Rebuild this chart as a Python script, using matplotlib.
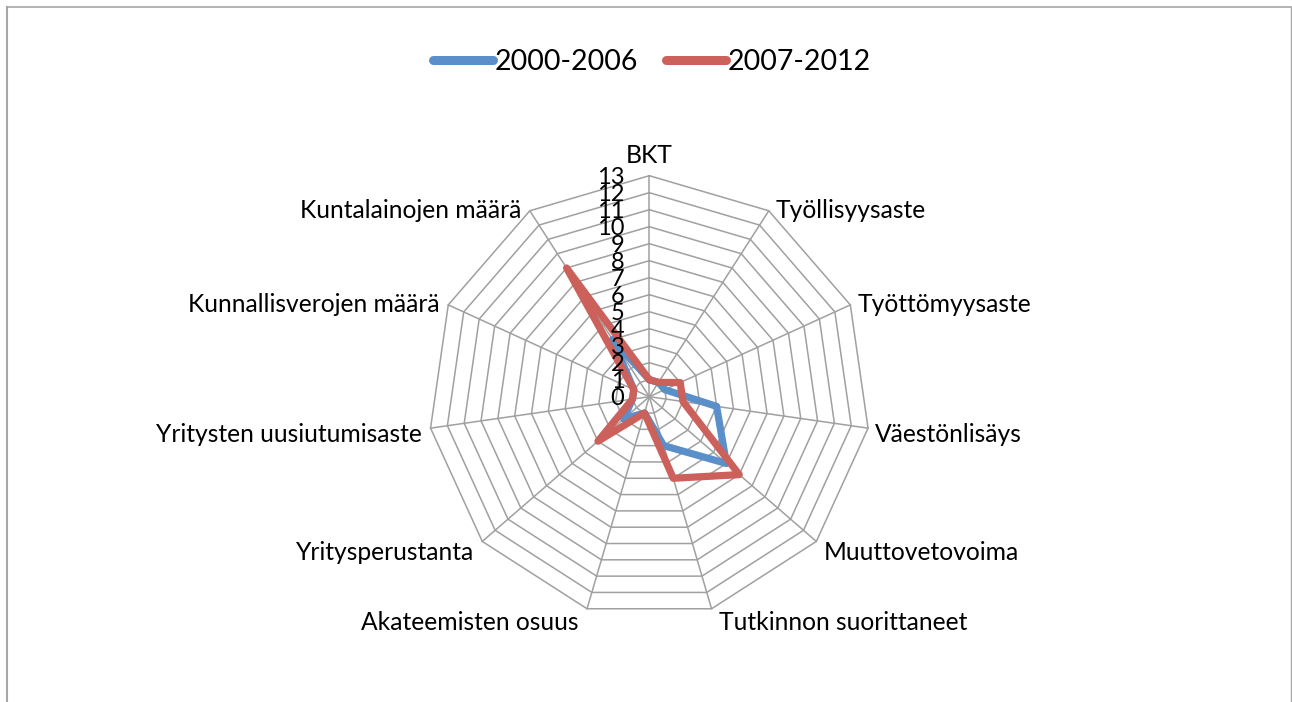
import numpy as np
import matplotlib.pyplot as plt
from matplotlib.lines import Line2D

plt.rcParams['font.family'] = ['Lato', 'DejaVu Sans']

categories = ["BKT", "Työllisyysaste", "Työttömyysaste", "Väestönlisäys",
              "Muuttovetovoima", "Tutkinnon suorittaneet", "Akateemisten osuus",
              "Yritysperustanta", "Yritysten uusiutumisaste",
              "Kunnallisverojen määrä", "Kuntalainojen määrä"]
s2000_2006 = [1, 1, 1, 4, 6, 3, 1, 2, 1, 1, 4]
s2007_2012 = [1, 1, 2, 2, 7, 5, 1, 4, 1, 1, 9]
series_names = ["2000-2006", "2007-2012"]
colors = ["#5b8fc9", "#cc605a"]
rmax = 13

n = len(categories)
theta = np.arange(n) * 2 * np.pi / n
sx, cy = np.sin(theta), np.cos(theta)

fig = plt.figure(figsize=(12.92, 7.02), dpi=100)
W, H = 1292, 702
cx_px, cy_px, R_px = 649.3, 396.7, 221
ax = fig.add_axes([(cx_px - R_px) / W, (H - cy_px - R_px) / H, 2 * R_px / W, 2 * R_px / H])
ax.set_xlim(-rmax, rmax)
ax.set_ylim(-rmax, rmax)
ax.axis('off')

grid_c = "#a0a0a0"
for r in range(1, rmax + 1):
    ax.plot(np.append(r * sx, r * sx[0]), np.append(r * cy, r * cy[0]),
            color=grid_c, lw=1.1, clip_on=False, zorder=1)
for i in range(n):
    ax.plot([0, rmax * sx[i]], [0, rmax * cy[i]], color=grid_c, lw=1.1,
            clip_on=False, zorder=1)

for vals, name, c in zip([s2000_2006, s2007_2012], series_names, colors):
    v = np.array(vals, dtype=float)
    ax.plot(np.append(v * sx, v[0] * sx[0]), np.append(v * cy, v[0] * cy[0]),
            color=c, lw=5.2, solid_joinstyle='round', solid_capstyle='round',
            clip_on=False, zorder=3)

# radial tick labels (they overlap in the original too)
for r in range(0, rmax + 1):
    ax.annotate(str(r), (0, r), xytext=(-18, -1.5), textcoords='offset points',
                ha='right', va='center', fontsize=17, zorder=4, annotation_clip=False)

# category labels
for i, lab in enumerate(categories):
    s, c = sx[i], cy[i]
    if abs(s) < 1e-6:
        ax.annotate(lab, (0, rmax), xytext=(0, 6), textcoords='offset points',
                    ha='center', va='bottom', fontsize=17.7, annotation_clip=False)
        continue
    dx = 5 if s > 0 else -6
    dy = 0 if c > 0 else -(4 + 6 * (-c))
    ax.annotate(lab, (rmax * s, rmax * c), xytext=(dx, dy), textcoords='offset points',
                ha='left' if s > 0 else 'right', va='center', fontsize=17.7,
                annotation_clip=False)

handles = [Line2D([], [], color=c, lw=6.5, solid_capstyle='round') for c in colors]
fig.legend(handles, series_names, loc='center', bbox_to_anchor=(652 / W, 1 - 62 / H),
           ncol=2, frameon=False, fontsize=20.5, handlelength=2.1, handletextpad=0.05,
           columnspacing=1.0)

# chart border
fig.add_artist(Line2D([7 / W, 7 / W], [0, 1 - 7 / H], color="#a6a6a6", lw=1.5))
fig.add_artist(Line2D([7 / W, 1290.5 / W], [1 - 7 / H, 1 - 7 / H], color="#a6a6a6", lw=1.2))
fig.add_artist(Line2D([1290.5 / W, 1290.5 / W], [0, 1 - 7 / H], color="#a6a6a6", lw=1.0))

fig.savefig("out.png", dpi=100)
